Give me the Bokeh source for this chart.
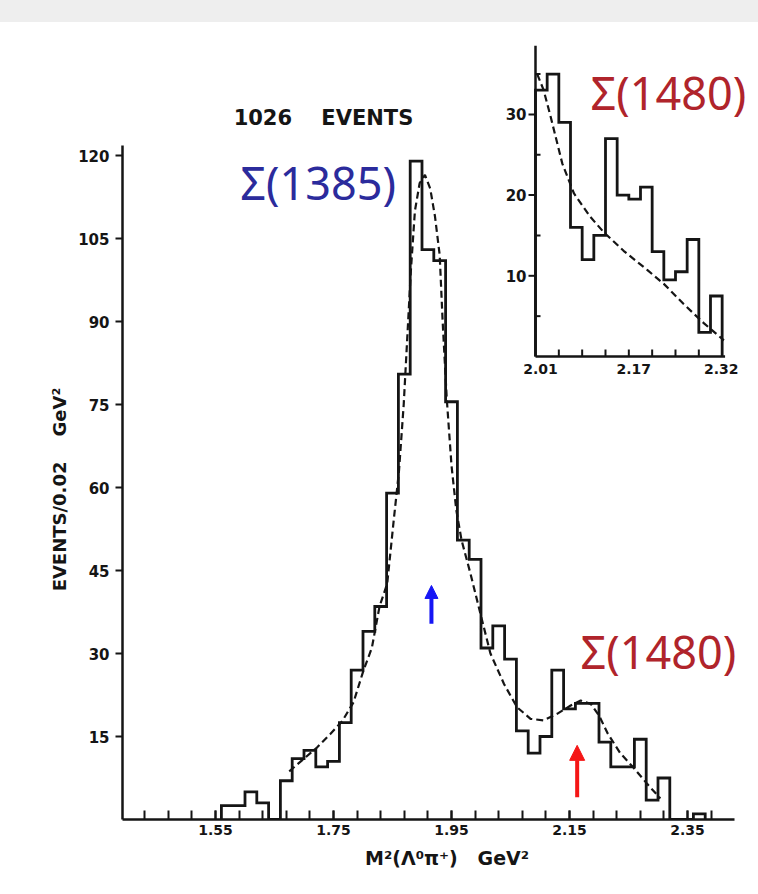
import numpy as np
from bokeh.plotting import figure
from bokeh.models import Range1d, FixedTicker, Arrow, NormalHead, Div
from bokeh.layouts import column
from bokeh.core.properties import value
from bokeh.embed import file_html
from bokeh.resources import INLINE

# ---------------------------------------------------------------- data
# Main histogram of M^2(Lambda pi+), bins of 0.02 GeV^2
bin_start = 1.56
bin_width = 0.02
counts = [2.5, 2.5, 5, 3, 0, 7, 11, 12.5, 9.5, 10.5,
          17.5, 27, 34, 38.5, 59, 80.5, 119, 103, 101, 75.5,
          50.5, 47, 31, 35, 29, 16, 12, 15, 27, 20,
          21, 21, 14, 9.5, 9.5, 14.5, 3.5, 7.5, 0, 0, 1]

# Fitted curve (dashed)
fit_x = [1.675, 1.700, 1.722, 1.745, 1.765, 1.784, 1.801, 1.815, 1.828, 1.841,
         1.852, 1.861, 1.869, 1.875, 1.881, 1.888, 1.896, 1.905, 1.914, 1.922,
         1.930, 1.935, 1.942, 1.950, 1.958, 1.967, 1.982, 1.999, 2.016, 2.039,
         2.061, 2.084, 2.106, 2.129, 2.152, 2.169, 2.186, 2.200, 2.215, 2.236,
         2.259, 2.282, 2.304]
fit_y = [8.7, 11.0, 13.0, 15.5, 17.8, 21.2, 27.0, 31.0, 38.5, 42.6,
         54.0, 63.0, 75.0, 87.0, 99.0, 110.0, 115.0, 116.5, 114.0, 109.0,
         102.0, 90.0, 76.0, 64.0, 56.0, 50.5, 44.5, 37.2, 30.0, 24.5,
         20.3, 18.2, 17.9, 19.1, 20.6, 21.5, 20.9, 18.8, 15.5, 12.0,
         9.3, 6.4, 3.8]

x_tick_labels = [1.55, 1.75, 1.95, 2.15, 2.35]
x_minor_ticks = [round(1.43 + 0.04 * i, 2) for i in range(25)]
y_ticks = [15, 30, 45, 60, 75, 90, 105, 120]

# Resonance positions marked with arrows (M^2, GeV^2)
sigma1385_m2 = 1.916
sigma1480_m2 = 2.163

# Inset: the Sigma(1480) region
inset_start = 2.01
inset_counts = [33, 35, 29, 16, 12, 15, 27, 20, 19.5, 21, 13, 9.5, 10.5, 14.5, 3, 7.5]
inset_fit_x = [2.013, 2.024, 2.036, 2.056, 2.076, 2.104, 2.127, 2.161, 2.202,
               2.230, 2.264, 2.299, 2.333]
inset_fit_y = [35.0, 33.0, 29.7, 23.9, 20.2, 17.3, 15.4, 13.1, 10.7, 9.0, 6.5, 4.1, 2.0]
inset_y_ticks = [10, 20, 30]
inset_y_minor = [5, 15, 25, 35]
inset_x_label_pos = [2.01, 2.17, 2.32]
inset_x_labels = ["2.01", "2.17", "2.32"]
inset_x_minor = [round(2.05 + 0.04 * i, 2) for i in range(7)]

NBSP = "\u00a0"

# ---------------------------------------------------------------- layout
W, H_BAND = 758, 22
H = 894 - H_BAND
BORDER_L, BORDER_T, BORDER_B = 122, 18, 75
FRAME_W = W - BORDER_L
FRAME_H = H - BORDER_T - BORDER_B

PX_X, PX_Y = 590.0, 5.533          # main scale: px per GeV^2, px per event
x0 = 1.55 - 93 / PX_X
IN_PX_X, IN_PX_Y = 583.3, 8.07     # inset scale
ix0 = inset_start - 413 / IN_PX_X
iy0 = -463 / IN_PX_Y

p = figure(width=W, height=H, output_backend="svg", toolbar_location=None,
           x_range=Range1d(x0, x0 + FRAME_W / PX_X),
           y_range=Range1d(0, FRAME_H / PX_Y),
           min_border_left=BORDER_L, min_border_right=0,
           min_border_top=BORDER_T, min_border_bottom=BORDER_B)
p.extra_x_ranges = {"inset": Range1d(ix0, ix0 + FRAME_W / IN_PX_X)}
p.extra_y_ranges = {"inset": Range1d(iy0, iy0 + FRAME_H / IN_PX_Y)}
p.outline_line_color = None
p.grid.visible = False
p.background_fill_color = "white"
p.border_fill_color = "white"

INK = "#151515"
FONT = "DejaVu Sans"

# axes
xa = p.xaxis[0]
xa.ticker = FixedTicker(ticks=x_tick_labels, minor_ticks=x_minor_ticks)
xa.bounds = (x0, 2.43)
xa.major_tick_in, xa.major_tick_out = 9, 0
xa.minor_tick_in, xa.minor_tick_out = 9, 0
xa.major_label_standoff = 5
# leading spaces nudge the centred title a little to the right
xa.axis_label = NBSP * 2 + "M²(Λ⁰π⁺)" + NBSP * 3 + "GeV²"
xa.axis_label_standoff = 9
ya = p.yaxis[0]
ya.ticker = FixedTicker(ticks=y_ticks, minor_ticks=[])
ya.bounds = (0, 121.8)
ya.major_tick_in, ya.major_tick_out = 0, 7
ya.minor_tick_in = ya.minor_tick_out = 0
ya.major_label_standoff = 6
# trailing spaces push the rotated title down towards the middle of the axis
ya.axis_label = "EVENTS/0.02" + NBSP * 4 + "GeV²" + NBSP * 19
ya.axis_label_standoff = 5
for ax in (xa, ya):
    ax.axis_line_width = 2.5
    ax.axis_line_color = INK
    ax.major_tick_line_width = 2
    ax.major_tick_line_color = INK
    ax.minor_tick_line_width = 2
    ax.minor_tick_line_color = INK
    ax.major_label_text_font = FONT
    ax.major_label_text_font_style = "bold"
    ax.major_label_text_color = INK
    ax.axis_label_text_font = FONT
    ax.axis_label_text_font_style = "bold"
    ax.axis_label_text_color = INK
xa.major_label_text_font_size = "14px"
ya.major_label_text_font_size = "15px"
xa.axis_label_text_font_size = "19px"
ya.axis_label_text_font_size = "18px"


def step_path(start, width, vals):
    edges = start + width * np.arange(len(vals) + 1)
    xs, ys = [edges[0]], [0.0]
    for i, v in enumerate(vals):
        xs += [edges[i], edges[i + 1]]
        ys += [v, v]
    xs.append(edges[-1])
    ys.append(0.0)
    return xs, ys


# main histogram + fit
hx, hy = step_path(bin_start, bin_width, counts)
p.line(hx, hy, line_color=INK, line_width=2.8, line_join="miter")
p.line(fit_x, fit_y, line_color=INK, line_width=2.2, line_dash="7 4")

# inset histogram + fit
ihx, ihy = step_path(inset_start, bin_width, inset_counts)
p.line(ihx, ihy, line_color=INK, line_width=2.8, line_join="miter",
       x_range_name="inset", y_range_name="inset")
p.line(inset_fit_x, inset_fit_y, line_color=INK, line_width=2.2, line_dash="7 4",
       x_range_name="inset", y_range_name="inset")

# inset axes
inset_x_end = inset_start + bin_width * len(inset_counts) + 0.005
p.segment(x0=[inset_start, inset_start], y0=[0, 0], x1=[inset_start, inset_x_end],
          y1=[38.5, 0], line_color=INK, line_width=2.5,
          x_range_name="inset", y_range_name="inset")
tick_out = 7 / IN_PX_X
tick_in = 5 / IN_PX_X
p.segment(x0=[inset_start - tick_out] * len(inset_y_ticks), y0=inset_y_ticks,
          x1=[inset_start] * len(inset_y_ticks), y1=inset_y_ticks,
          line_color=INK, line_width=2, x_range_name="inset", y_range_name="inset")
p.segment(x0=[inset_start] * len(inset_y_minor), y0=inset_y_minor,
          x1=[inset_start + tick_in] * len(inset_y_minor), y1=inset_y_minor,
          line_color=INK, line_width=2, x_range_name="inset", y_range_name="inset")
p.segment(x0=inset_x_minor, y0=[0] * len(inset_x_minor),
          x1=inset_x_minor, y1=[7 / IN_PX_Y] * len(inset_x_minor),
          line_color=INK, line_width=2, x_range_name="inset", y_range_name="inset")
p.text(x=[inset_start] * len(inset_y_ticks), y=inset_y_ticks,
       text=[str(t) for t in inset_y_ticks], x_offset=-9,
       text_align="right", text_baseline="middle", text_color=INK,
       text_font=value(FONT), text_font_style="bold", text_font_size="15px",
       x_range_name="inset", y_range_name="inset")
p.text(x=inset_x_label_pos, y=[0] * len(inset_x_labels), text=inset_x_labels,
       x_offset=5, y_offset=7, text_align="center", text_baseline="top",
       text_color=INK, text_font=value(FONT), text_font_style="bold",
       text_font_size="14px", x_range_name="inset", y_range_name="inset")

# annotations
p.text(x=[1.733], y=[126.7], text=["1026" + NBSP * 4 + "EVENTS"], text_align="center",
       text_baseline="middle", text_color=INK, text_font=value(FONT),
       text_font_style="bold", text_font_size="21px")

BLUE_TXT, RED_TXT = "#2b2b9c", "#b0242b"
p.text(x=[1.592], y=[115.1], text=["Σ(1385)"], text_align="left",
       text_baseline="middle", text_color=BLUE_TXT,
       text_font=value("Noto Sans"), text_font_size="45px")
p.text(x=[2.1686, 2.1856], y=[30.4, 131.4], text=["Σ(1480)", "Σ(1480)"],
       text_align="left", text_baseline="middle", text_color=RED_TXT,
       text_font=value("Noto Sans"), text_font_size="45px")

p.add_layout(Arrow(end=NormalHead(size=13, fill_color="#1616f5", line_color="#1616f5"),
                   x_start=sigma1385_m2, y_start=35.4, x_end=sigma1385_m2, y_end=42.3,
                   line_color="#1616f5", line_width=4))
p.add_layout(Arrow(end=NormalHead(size=15, fill_color="#f51616", line_color="#f51616"),
                   x_start=sigma1480_m2, y_start=4.0, x_end=sigma1480_m2, y_end=13.4,
                   line_color="#f51616", line_width=4))

band = Div(width=W, height=H_BAND, margin=0,
           styles={"background-color": "#eeeeee"})
layout = column(band, p, spacing=0)

open("out.html", "w").write(file_html(layout, INLINE))
